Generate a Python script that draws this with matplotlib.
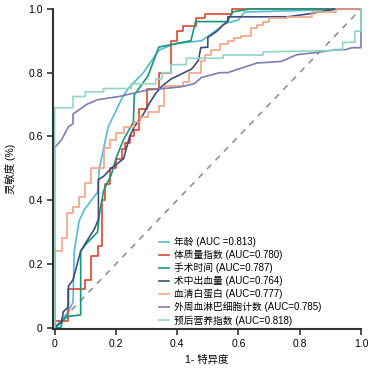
import matplotlib
matplotlib.use("Agg")
import matplotlib.pyplot as plt

plt.rcParams['font.family'] = ['Liberation Sans', 'Noto Sans CJK SC']

labels = ['年龄 (AUC =0.813)', '体质量指数 (AUC=0.780)', '手术时间 (AUC=0.787)',
          '术中出血量 (AUC=0.764)', '血清白蛋白 (AUC=0.777)',
          '外周血淋巴细胞计数 (AUC=0.785)', '预后营养指数 (AUC=0.818)']
colors = ['#56b9d6', '#d9472f', '#16967a', '#3b4e7e', '#f3a283', '#7a7fb0', '#93d6c6']

# 1-specificity / sensitivity
age_x = [0, 0.045, 0.06, 0.064, 0.08, 0.097, 0.14, 0.146, 0.175, 0.185, 0.22, 0.24, 0.29, 0.34, 0.39, 0.48, 0.56, 0.60, 0.62, 1.0]
age_y = [0, 0.05, 0.08, 0.24, 0.335, 0.37, 0.425, 0.50, 0.63, 0.65, 0.72, 0.75, 0.80, 0.87, 0.89, 0.90, 0.955, 0.965, 0.99, 1.0]

bmi_x = [0, 0, 0.045, 0.045, 0.10, 0.10, 0.12, 0.12, 0.14, 0.14, 0.155, 0.155, 0.165, 0.165, 0.18, 0.18, 0.20, 0.20, 0.22, 0.22, 0.23, 0.23, 0.245, 0.245, 0.26, 0.26, 0.275, 0.275, 0.30, 0.30, 0.34, 0.34, 0.38, 0.38, 0.40, 0.40, 0.42, 0.42, 0.46, 0.46, 0.49, 0.49, 0.58, 0.58, 1.0]
bmi_y = [0, 0.02, 0.02, 0.12, 0.12, 0.15, 0.15, 0.225, 0.225, 0.255, 0.255, 0.40, 0.40, 0.45, 0.45, 0.50, 0.50, 0.53, 0.53, 0.56, 0.56, 0.58, 0.58, 0.60, 0.60, 0.62, 0.62, 0.685, 0.685, 0.75, 0.75, 0.80, 0.80, 0.90, 0.90, 0.93, 0.93, 0.945, 0.945, 0.97, 0.97, 0.985, 0.985, 1.0, 1.0]

op_x = [0, 0.02, 0.025, 0.04, 0.085, 0.085, 0.10, 0.14, 0.145, 0.16, 0.185, 0.20, 0.225, 0.257, 0.26, 0.305, 0.34, 0.445, 0.46, 0.565, 0.58, 0.64, 1.0]
op_y = [0, 0.0, 0.02, 0.035, 0.04, 0.24, 0.26, 0.30, 0.35, 0.43, 0.48, 0.53, 0.59, 0.645, 0.73, 0.79, 0.88, 0.90, 0.96, 0.96, 0.99, 1.0, 1.0]

blood_x = [0, 0.023, 0.028, 0.045, 0.045, 0.06, 0.085, 0.104, 0.13, 0.143, 0.143, 0.16, 0.185, 0.225, 0.245, 0.26, 0.29, 0.31, 0.33, 0.35, 0.38, 0.445, 0.455, 0.47, 0.477, 0.50, 0.50, 0.53, 0.55, 0.565, 0.565, 0.76, 0.835, 0.92, 1.0]
blood_y = [0, 0.018, 0.05, 0.065, 0.13, 0.15, 0.24, 0.27, 0.31, 0.34, 0.465, 0.475, 0.50, 0.53, 0.60, 0.63, 0.67, 0.705, 0.735, 0.757, 0.78, 0.81, 0.82, 0.84, 0.878, 0.88, 0.91, 0.93, 0.95, 0.96, 0.975, 0.975, 0.985, 1.0, 1.0]

alb_x = [0, 0, 0.023, 0.023, 0.04, 0.04, 0.06, 0.06, 0.08, 0.08, 0.10, 0.10, 0.12, 0.12, 0.16, 0.16, 0.18, 0.18, 0.20, 0.20, 0.225, 0.225, 0.26, 0.26, 0.28, 0.28, 0.305, 0.305, 0.34, 0.34, 0.357, 0.357, 0.42, 0.42, 0.44, 0.44, 0.477, 0.477, 0.49, 0.49, 0.51, 0.51, 0.54, 0.54, 0.565, 0.565, 0.585, 0.585, 0.607, 0.607, 0.64, 0.64, 0.66, 0.66, 0.68, 0.68, 0.70, 0.70, 0.76, 0.76, 0.84, 0.84, 0.92, 0.92, 1.0]
alb_y = [0, 0.24, 0.24, 0.28, 0.28, 0.36, 0.36, 0.38, 0.38, 0.41, 0.41, 0.455, 0.455, 0.50, 0.50, 0.565, 0.565, 0.59, 0.59, 0.61, 0.61, 0.63, 0.63, 0.645, 0.645, 0.66, 0.66, 0.675, 0.675, 0.695, 0.695, 0.757, 0.757, 0.77, 0.77, 0.80, 0.80, 0.835, 0.835, 0.856, 0.856, 0.87, 0.87, 0.89, 0.89, 0.90, 0.90, 0.91, 0.91, 0.915, 0.915, 0.94, 0.94, 0.95, 0.95, 0.96, 0.96, 0.97, 0.97, 0.975, 0.975, 0.99, 0.99, 1.0, 1.0]

lym_x = [0, 0, 0.023, 0.045, 0.06, 0.06, 0.09, 0.104, 0.14, 0.21, 0.30, 0.41, 0.455, 0.48, 0.54, 0.565, 0.66, 0.74, 0.79, 0.87, 0.92, 0.95, 0.97, 1.0, 1.0]
lym_y = [0, 0.565, 0.59, 0.63, 0.64, 0.67, 0.69, 0.70, 0.715, 0.725, 0.745, 0.755, 0.765, 0.785, 0.80, 0.80, 0.83, 0.835, 0.856, 0.865, 0.872, 0.872, 0.878, 0.878, 1.0]

pni_x = [0, 0, 0.06, 0.06, 0.10, 0.10, 0.16, 0.16, 0.25, 0.25, 0.33, 0.33, 0.35, 0.35, 0.38, 0.38, 0.43, 0.43, 0.55, 0.55, 0.68, 0.68, 0.94, 0.94, 0.98, 0.98, 1.0, 1.0]
pni_y = [0, 0.69, 0.69, 0.725, 0.725, 0.74, 0.74, 0.75, 0.75, 0.765, 0.765, 0.78, 0.78, 0.80, 0.80, 0.825, 0.825, 0.845, 0.845, 0.855, 0.855, 0.865, 0.87, 0.895, 0.895, 0.93, 0.93, 1.0]

curves = [(age_x, age_y), (bmi_x, bmi_y), (op_x, op_y), (blood_x, blood_y),
          (alb_x, alb_y), (lym_x, lym_y), (pni_x, pni_y)]

fig = plt.figure(figsize=(3.82, 3.68), dpi=100)
ax = fig.add_axes([0.139, 0.106, 0.806, 0.87])

ax.plot([0, 1], [0, 1], color='#8a8a8a', lw=1.1, ls=(0, (4, 4)), zorder=1)
for (xs, ys), c, lab in zip(curves, colors, labels):
    ax.plot(xs, ys, color=c, lw=1.2, label=lab, clip_on=False, zorder=2)

ax.set_xlim(-0.005, 1.0)
ax.set_ylim(-0.004, 1.0)
ticks = [0, 0.2, 0.4, 0.6, 0.8, 1.0]
tick_labels = ['0', '0.2', '0.4', '0.6', '0.8', '1.0']
ax.set_xticks(ticks)
ax.set_xticklabels(tick_labels)
ax.set_yticks(ticks)
ax.set_yticklabels(tick_labels)
ax.tick_params(labelsize=7.5, length=4, width=1.2, color='#333333', direction='out')

for s in ['top', 'right']:
    ax.spines[s].set_visible(False)
for s in ['left', 'bottom']:
    ax.spines[s].set_color('#333333')
    ax.spines[s].set_linewidth(1.5)

ax.set_xlabel('1- 特异度', fontsize=7.5, labelpad=4)
ax.set_ylabel('灵敏度 (%)', fontsize=7.5, labelpad=9)

ax.legend(loc='upper left', bbox_to_anchor=(0.33, 0.30), frameon=False,
          fontsize=7, handlelength=1.1, handletextpad=0.5, labelspacing=0.28,
          borderaxespad=0)

fig.savefig('out.png', dpi=100)
